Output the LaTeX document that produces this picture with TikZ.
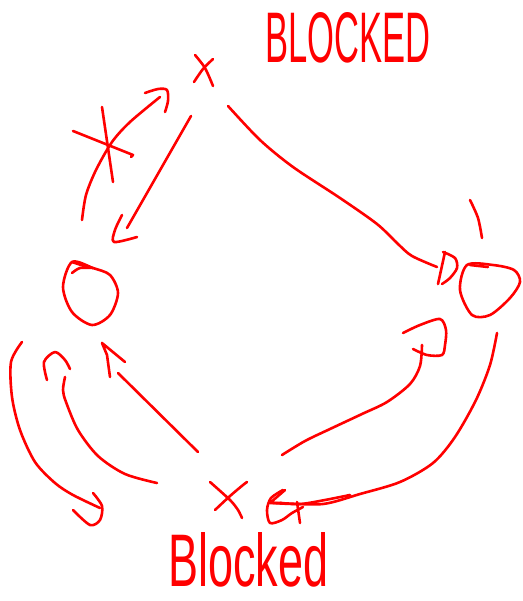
\documentclass[tikz,border=0pt]{standalone}
\usepackage{fontspec}
\setmainfont{Liberation Sans}
\begin{document}
\begin{tikzpicture}[x=1pt,y=-1pt,
  ink/.style={draw=red,line width=2.6pt,line cap=round,line join=round},
  hand/.style={text=red,inner sep=0pt,anchor=north west}]
\useasboundingbox (0,0) rectangle (522,601);
% labels
\node[hand] (top) at (265,12) {\resizebox{165pt}{50pt}{BLOCKED}};
\node[hand] (bot) at (168,532) {\resizebox{160pt}{54pt}{Blocked}};
% top X
\draw[ink] plot[smooth] coordinates {(195,55) (205,68) (213,86)};
\draw[ink] plot[smooth] coordinates {(194,82) (203,69) (213,59)};
% curved arrow from left circle up to top X (crossed)
\draw[ink] plot[smooth] coordinates {(82,220) (86,195) (96,170) (112,142) (130,122) (160,97)};
\draw[ink] plot[smooth] coordinates {(145,93) (158,89) (167,90) (168,101) (165,112)};
\draw[ink] (73,131) -- (133,155) -- (131,157);
\draw[ink] (102,107) -- (113,182);
% straight arrow from top X down to left circle
\draw[ink] (191,116) -- (127,228);
\draw[ink] plot[smooth] coordinates {(122,215) (115,230) (114,242) (137,237)};
% long curve from top X to right circle
\draw[ink] plot[smooth] coordinates {(228,106) (260,140) (293,167) (340,198) (377,224) (398,244) (412,256) (437,267)};
\draw[ink] plot[smooth] coordinates {(443,252) (455,258) (457,268) (450,278) (442,284)};
\draw[ink] (445,252) -- (438,284);
% right circle
\draw[ink] plot[smooth cycle] coordinates {(467,265) (460,290) (472,315) (490,315) (510,298) (520,282) (514,270) (493,265)};
\draw[ink] (470,265) -- (488,267);
\draw[ink] plot[smooth] coordinates {(470,200) (478,218) (482,238)};
% curve from bottom up to right circle
\draw[ink] plot[smooth] coordinates {(282,455) (305,441) (330,429) (362,414) (387,402) (410,384) (420,366) (422,345)};
\draw[ink] plot[smooth] coordinates {(403,333) (420,325) (440,319) (446,330) (445,345) (442,355) (427,355) (413,349)};
% curve from right circle down to bottom circle
\draw[ink] plot[smooth] coordinates {(497,333) (490,365) (476,400) (455,437) (433,463) (400,482) (360,494) (323,504) (280,503)};
\draw[ink] (285,490) -- (270,503) -- (282,503);
% bottom circle symbol
\draw[ink] plot[smooth] coordinates {(283,490) (271,498) (267,510) (270,523) (282,520) (292,513) (303,507)};
\draw[ink] (297,502) -- (300,523);
\draw[ink] plot[smooth] coordinates {(273,503) (300,504) (325,500) (350,495)};
% bottom X
\draw[ink] plot[smooth] coordinates {(210,482) (230,500) (238,510) (242,518)};
\draw[ink] plot[smooth] coordinates {(215,510) (230,496) (243,485) (247,482)};
% left circle
\draw[ink] plot[smooth cycle] coordinates {(72,262) (63,287) (72,312) (92,325) (110,315) (118,293) (110,275) (93,268)};
\draw[ink] (72,262) -- (87,267);
\draw[ink] plot[smooth] coordinates {(72,273) (80,268) (93,268)};
% leftmost curve
\draw[ink] plot[smooth] coordinates {(22,342) (11,362) (12,397) (20,430) (35,462) (55,483) (73,495) (100,508)};
\draw[ink] plot[smooth] coordinates {(93,493) (102,506) (100,520) (90,525) (73,510)};
% second curve
\draw[ink] plot[smooth] coordinates {(157,483) (125,474) (98,456) (78,430) (66,402) (63,390) (65,377)};
\draw[ink] plot[smooth] coordinates {(47,380) (44,362) (55,352) (65,360) (70,369)};
% straight arrow from bottom X to left circle
\draw[ink] (198,452) -- (118,373);
\draw[ink] (110,377) -- (107,355) -- (102,343) -- (125,362);
\end{tikzpicture}
\end{document}
